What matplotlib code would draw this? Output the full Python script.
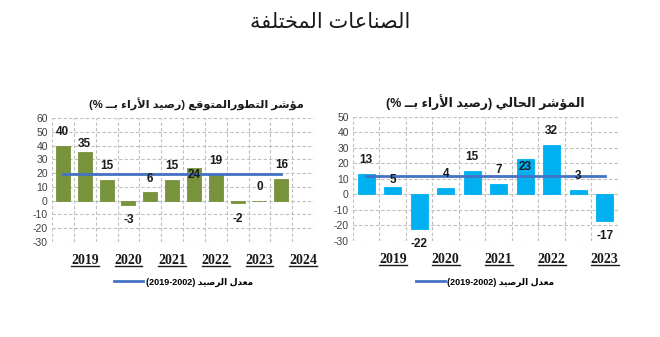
import re
import matplotlib
matplotlib.use("Agg")
import matplotlib.pyplot as plt
from matplotlib.lines import Line2D

plt.rcParams['font.family'] = ['Liberation Sans', 'DejaVu Sans']
plt.rcParams['axes.unicode_minus'] = False

# data
left_vals = [40, 35, 15, -3, 6, 15, 24, 19, -2, 0, 16]
left_avg = 19
left_years = ['2019', '2020', '2021', '2022', '2023', '2024']
right_vals = [13, 5, -22, 4, 15, 7, 23, 32, 3, -17]
right_avg = 12
right_years = ['2019', '2020', '2021', '2022', '2023']

main_title = 'الصناعات المختلفة'
left_title = 'مؤشر التطورالمتوقع (رصيد الأراء بــ %)'
right_title = 'المؤشر الحالي (رصيد الأراء بــ %)'
legend_text = 'معدل الرصيد (2019-2002)'


# --- minimal arabic shaping (presentation forms) + right-to-left ordering ---
_FORMS = {}
for ch, base, n in [('ء', 0xFE80, 1), ('آ', 0xFE81, 2), ('أ', 0xFE83, 2), ('ؤ', 0xFE85, 2),
                    ('إ', 0xFE87, 2), ('ئ', 0xFE89, 4), ('ا', 0xFE8D, 2), ('ب', 0xFE8F, 4),
                    ('ة', 0xFE93, 2), ('ت', 0xFE95, 4), ('ث', 0xFE99, 4), ('ج', 0xFE9D, 4),
                    ('ح', 0xFEA1, 4), ('خ', 0xFEA5, 4), ('د', 0xFEA9, 2), ('ذ', 0xFEAB, 2),
                    ('ر', 0xFEAD, 2), ('ز', 0xFEAF, 2), ('س', 0xFEB1, 4), ('ش', 0xFEB5, 4),
                    ('ص', 0xFEB9, 4), ('ض', 0xFEBD, 4), ('ط', 0xFEC1, 4), ('ظ', 0xFEC5, 4),
                    ('ع', 0xFEC9, 4), ('غ', 0xFECD, 4), ('ف', 0xFED1, 4), ('ق', 0xFED5, 4),
                    ('ك', 0xFED9, 4), ('ل', 0xFEDD, 4), ('م', 0xFEE1, 4), ('ن', 0xFEE5, 4),
                    ('ه', 0xFEE9, 4), ('و', 0xFEED, 2), ('ى', 0xFEEF, 2), ('ي', 0xFEF1, 4)]:
    _FORMS[ch] = (base, n)
_LAMALEF = {'آ': 0xFEF5, 'أ': 0xFEF7, 'إ': 0xFEF9, 'ا': 0xFEFB}
TATWEEL = 'ـ'


def _dual(c):
    return c == TATWEEL or (c in _FORMS and _FORMS[c][1] == 4)


def _joins(c):
    return c == TATWEEL or (c in _FORMS and _FORMS[c][1] >= 2)


def shape(s):
    out = []
    i = 0
    while i < len(s):
        c = s[i]
        p = i > 0 and _dual(s[i - 1])
        if c == 'ل' and i + 1 < len(s) and s[i + 1] in _LAMALEF:
            out.append(chr(_LAMALEF[s[i + 1]] + (1 if p else 0)))
            i += 2
            continue
        if c not in _FORMS:
            out.append(c)
            i += 1
            continue
        base, n = _FORMS[c]
        nx = n == 4 and i + 1 < len(s) and _joins(s[i + 1])
        if n == 1:
            f = base
        elif n == 2:
            f = base + (1 if p else 0)
        else:
            f = base + (3 if p and nx else 1 if p else 2 if nx else 0)
        out.append(chr(f))
        i += 1
    return ''.join(out)


def ar(s):
    t = shape(s)[::-1]
    t = re.sub(r'[0-9][0-9\-.]*[0-9]|[0-9]', lambda m: m.group(0)[::-1], t)
    return t.translate(str.maketrans('()', ')('))


GREEN = '#77933C'
CYAN = '#00B0F0'
LINE = '#4472C4'
GRID = '#BFBFBF'

fig = plt.figure(figsize=(6.6, 3.37), dpi=100)
ax1 = fig.add_axes([0.0788, 0.2819, 0.397, 0.368])
ax2 = fig.add_axes([0.5348, 0.2849, 0.4015, 0.368])


def draw_panel(ax, vals, avg, years, nslots, ylim, color, title, title_size, title_x, offsets):
    x = list(range(len(vals)))
    ax.bar(x, vals, width=0.64, color=color, edgecolor=color, linewidth=0.6, zorder=2)
    ax.plot([0, len(vals) - 1], [avg, avg], color=LINE, lw=2, zorder=3)
    for i, v in enumerate(vals):
        off = offsets.get(i, 10 if v >= 0 else -11)
        ax.annotate(str(v), (i, v), xytext=(0, off), textcoords='offset points',
                    ha='center', va='center', fontsize=8.5, fontweight='bold',
                    color='#1a1a1a', zorder=4)
    ax.set_xlim(-0.5, nslots - 0.5)
    ax.set_ylim(*ylim)
    ax.set_yticks(range(ylim[0], ylim[1] + 1, 10))
    ax.set_xticks(range(1, nslots, 2))
    ax.set_xticklabels(years, family='Liberation Serif', fontweight='bold',
                       fontsize=10, color='#1a1a1a')
    ax.set_xticks([k - 0.5 for k in range(nslots + 1)], minor=True)
    ax.tick_params(axis='both', which='both', length=0)
    ax.tick_params(axis='y', labelsize=7.5, labelcolor='#404040', pad=3)
    ax.tick_params(axis='x', pad=9)
    ax.grid(axis='y', which='major', color=GRID, ls=(0, (3, 2)), lw=0.8, zorder=0)
    ax.grid(axis='x', which='minor', color=GRID, ls=(0, (3, 2)), lw=0.8, zorder=0)
    ax.grid(axis='x', which='major', visible=False)
    for sp in ax.spines.values():
        sp.set_visible(False)
    ax.set_title(ar(title), fontsize=title_size, fontweight='bold', color='#1a1a1a',
                 pad=7, x=title_x)


draw_panel(ax1, left_vals, left_avg, left_years, 12, (-30, 60), GREEN, left_title, 8.2, 0.55,
           {1: 6, 6: -5})
draw_panel(ax2, right_vals, right_avg, right_years, 10, (-30, 50), CYAN, right_title, 9, 0.5,
           {1: 5, 6: -6})

fig.text(0.5, 0.932, ar(main_title), ha='center', va='center', fontsize=15, color='#1a1a1a')

for cx in (0.278, 0.735):
    h = Line2D([], [], color=LINE, lw=2)
    fig.legend([h], [ar(legend_text)], loc='center', bbox_to_anchor=(cx, 0.163),
               frameon=False, prop={'size': 6.5, 'weight': 'bold'},
               handlelength=3.2, handletextpad=0.3)

# underline the year labels
fig.canvas.draw()
r = fig.canvas.get_renderer()
inv = fig.transFigure.inverted()
for ax in (ax1, ax2):
    for lab in ax.get_xticklabels():
        bb = lab.get_window_extent(r)
        (x0, y0), (x1, _) = inv.transform([(bb.x0, bb.y0 + 1), (bb.x1, bb.y0 + 1)])
        fig.add_artist(Line2D([x0, x1], [y0, y0], color='#1a1a1a', lw=1.0,
                              transform=fig.transFigure))

fig.savefig('out.png', dpi=100)
